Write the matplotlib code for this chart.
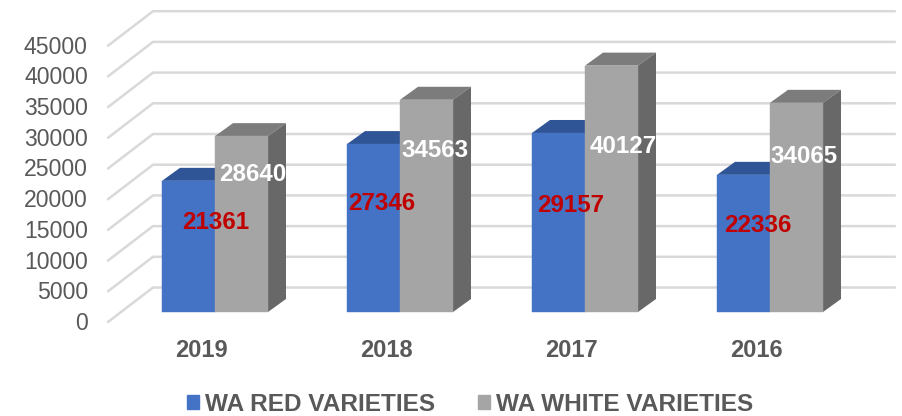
import matplotlib
matplotlib.use('Agg')
import matplotlib.pyplot as plt
from matplotlib.patches import Patch, Polygon

plt.rcParams['font.family'] = ['Liberation Sans', 'DejaVu Sans']

years = ['2019', '2018', '2017', '2016']
red_values = [21361, 27346, 29157, 22336]
white_values = [28640, 34563, 40127, 34065]
y_ticks = [0, 5000, 10000, 15000, 20000, 25000, 30000, 35000, 40000, 45000]

# label offsets from the top centre of each bar, in pixels
red_label_dx = [27, 8.5, 12, 14]
red_label_dy = [-42, -59, -73, -51]
white_label_dx = [11, 8.5, 11.5, 7.5]
white_label_dy = [-38, -51, -81, -54]

W, H = 903, 416
PX_X = 1 / 185      # category units per pixel
PX_Y = 5000 / 30.7  # value units per pixel
bar_w = 53 * PX_X
depth_x = 18 * PX_X
depth_y = 13 * PX_Y

fig = plt.figure(figsize=(W / 100, H / 100), dpi=100)
ax = fig.add_axes([92 / W, (H - 335) / H, (W - 92) / W, 335 / H])
ax.set_xlim((92 - 215) * PX_X, (903 - 215) * PX_X)
ax.set_ylim((312 - 335) * PX_Y, 312 * PX_Y)
for s in ax.spines.values():
    s.set_visible(False)

# walls: front point, back point, then along the back
for v in y_ticks:
    ax.plot([(108 - 215) * PX_X, (153 - 215) * PX_X, (895 - 215) * PX_X],
            [v - 10 * PX_Y, v + 24.5 * PX_Y, v + 24.5 * PX_Y],
            color='#D9D9D9', lw=1.8, zorder=1, solid_capstyle='round')


def draw_bars(centres, values, face, top, side):
    ax.bar(centres, values, width=bar_w, color=face, edgecolor=face, linewidth=0.3, zorder=3)
    for c, v in zip(centres, values):
        l, r = c - bar_w / 2, c + bar_w / 2
        ax.add_patch(Polygon([(l, v), (l + depth_x, v + depth_y), (r + depth_x, v + depth_y), (r, v)],
                             color=top, lw=0, zorder=2))
        ax.add_patch(Polygon([(r, 0), (r + depth_x, depth_y), (r + depth_x, v + depth_y), (r, v)],
                             color=side, lw=0, zorder=2))


x = list(range(len(years)))
red_x = [i - bar_w / 2 for i in x]
white_x = [i + bar_w / 2 for i in x]
draw_bars(red_x, red_values, '#4472C4', '#2F5597', '#2F5597')
draw_bars(white_x, white_values, '#A5A5A5', '#7C7C7C', '#686868')

for i in x:
    ax.annotate(str(red_values[i]), (red_x[i], red_values[i]), xytext=(red_label_dx[i], red_label_dy[i]),
                textcoords='offset pixels', ha='center', va='center', color='#C00000',
                fontsize=17.4, fontweight='bold', zorder=5)
    ax.annotate(str(white_values[i]), (white_x[i], white_values[i]), xytext=(white_label_dx[i], white_label_dy[i]),
                textcoords='offset pixels', ha='center', va='center', color='white',
                fontsize=17.4, fontweight='bold', zorder=5)

# tick labels sit a little above the front end of the grid lines
ax.set_yticks([v - 9 * PX_Y for v in y_ticks], [str(v) for v in y_ticks])
ax.set_xticks([i - 14 * PX_X for i in x], years)
ax.tick_params(axis='y', length=0, pad=3, labelsize=16.6, labelcolor='#595959')
ax.tick_params(axis='x', length=0, pad=3, labelsize=17, labelcolor='#595959')
for t in ax.get_xticklabels():
    t.set_fontweight('bold')

handles = [Patch(color='#4472C4', label='WA RED VARIETIES'),
           Patch(color='#A5A5A5', label='WA WHITE VARIETIES')]
leg = fig.legend(handles=handles, loc='center', bbox_to_anchor=(470 / W, 1 - 404.5 / H), ncol=2,
                 frameon=False, handlelength=0.5, handleheight=0.5, handletextpad=0.25,
                 columnspacing=1.75, borderpad=0, prop={'size': 17.6, 'weight': 'bold'})
for t in leg.get_texts():
    t.set_color('#595959')

fig.savefig('out.png', dpi=100)
